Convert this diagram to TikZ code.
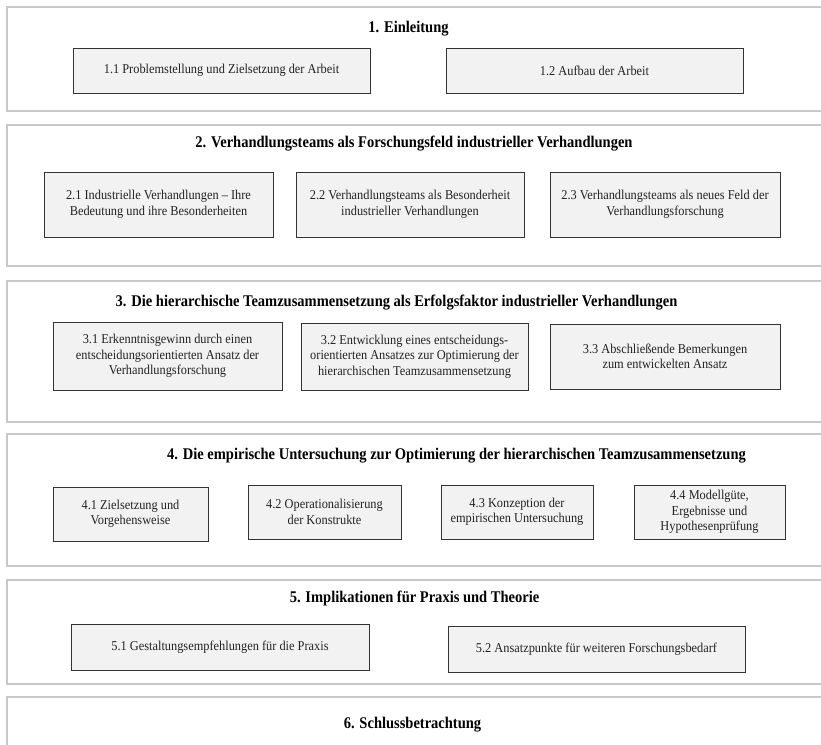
\documentclass[tikz,border=0pt]{standalone}
\usepackage{fontspec}
\setmainfont{Liberation Serif}
\newfontfamily\bodyfont[FakeStretch=0.915]{Liberation Serif}
\newfontfamily\titlefont[FakeStretch=0.89]{Liberation Serif}
\definecolor{framegray}{HTML}{C8C8C8}
\definecolor{boxborder}{HTML}{333333}
\definecolor{boxfill}{HTML}{F2F2F2}
\definecolor{textgray}{HTML}{222222}
\begin{document}
\begin{tikzpicture}[x=1pt,y=-1pt,
  frame/.style={draw=framegray, line width=1.8pt},
  sub/.style={draw=boxborder, line width=0.9pt, fill=boxfill, align=center,
    inner sep=0pt, text=textgray, font=\bodyfont\fontsize{13.5}{15.5}\selectfont},
  head/.style={font=\titlefont\bfseries\fontsize{16.3}{19}\selectfont, inner sep=0pt, text=black}]
\useasboundingbox (0,0) rectangle (821,744);
\clip (0,0) rectangle (821,744);
\fill[white] (0,0) rectangle (821,744);
% frames
\draw[frame] (7,7) rectangle (840,111);
\draw[frame] (7,125) rectangle (840,266);
\draw[frame] (7,281) rectangle (840,422);
\draw[frame] (7,434) rectangle (840,566);
\draw[frame] (7,580) rectangle (840,684);
\draw[frame] (7,697) rectangle (840,770);
% titles
\node[head] (t1) at (408.5,29) {1. Einleitung};
\node[head] (t2) at (414,144) {2. Verhandlungsteams als Forschungsfeld industrieller Verhandlungen};
\node[head] (t3) at (396.5,303) {3. Die hierarchische Teamzusammensetzung als Erfolgsfaktor industrieller Verhandlungen};
\node[head] (t4) at (456.5,456) {4. Die empirische Untersuchung zur Optimierung der hierarchischen Teamzusammensetzung};
\node[head] (t5) at (414.5,598) {5. Implikationen für Praxis und Theorie};
\node[head] (t6) at (412.5,725) {6. Schlussbetrachtung};
% section 1
\node[sub, minimum width=297pt, minimum height=45pt] (b11) at (221.5,70.5) {1.1 Problemstellung und Zielsetzung der Arbeit};
\node[sub, minimum width=297pt, minimum height=45pt] (b12) at (594.5,70.5) {1.2 Aufbau der Arbeit};
% section 2
\node[sub, minimum width=229pt, minimum height=65pt] (b21) at (158.5,204.5) {2.1 Industrielle Verhandlungen – Ihre\\Bedeutung und ihre Besonderheiten};
\node[sub, minimum width=228pt, minimum height=65pt] (b22) at (410,204.5) {2.2 Verhandlungsteams als Besonderheit\\industrieller Verhandlungen};
\node[sub, minimum width=230pt, minimum height=65pt] (b23) at (665,204.5) {2.3 Verhandlungsteams als neues Feld der\\Verhandlungsforschung};
% section 3
\node[sub, minimum width=229pt, minimum height=68pt] (b31) at (167.5,356) {3.1 Erkenntnisgewinn durch einen\\entscheidungsorientierten Ansatz der\\Verhandlungsforschung};
\node[sub, minimum width=227pt, minimum height=67pt] (b32) at (414.5,356.5) {3.2 Entwicklung eines entscheidungs-\\orientierten Ansatzes zur Optimierung der\\hierarchischen Teamzusammensetzung};
\node[sub, minimum width=230pt, minimum height=65pt] (b33) at (665,356.5) {3.3 Abschließende Bemerkungen\\zum entwickelten Ansatz};
% section 4
\node[sub, minimum width=155pt, minimum height=54pt] (b41) at (130.5,514) {4.1 Zielsetzung und\\Vorgehensweise};
\node[sub, minimum width=153pt, minimum height=54pt] (b42) at (324.5,512) {4.2 Operationalisierung\\der Konstrukte};
\node[sub, minimum width=152pt, minimum height=54pt] (b43) at (517,512) {4.3 Konzeption der\\empirischen Untersuchung};
\node[sub, minimum width=151pt, minimum height=54pt] (b44) at (709.5,512) {4.4 Modellgüte,\\Ergebnisse und\\Hypothesenprüfung};
% section 5
\node[sub, minimum width=298pt, minimum height=46pt] (b51) at (220,647) {5.1 Gestaltungsempfehlungen für die Praxis};
\node[sub, minimum width=297pt, minimum height=46pt] (b52) at (596.5,649) {5.2 Ansatzpunkte für weiteren Forschungsbedarf};
\end{tikzpicture}
\end{document}
